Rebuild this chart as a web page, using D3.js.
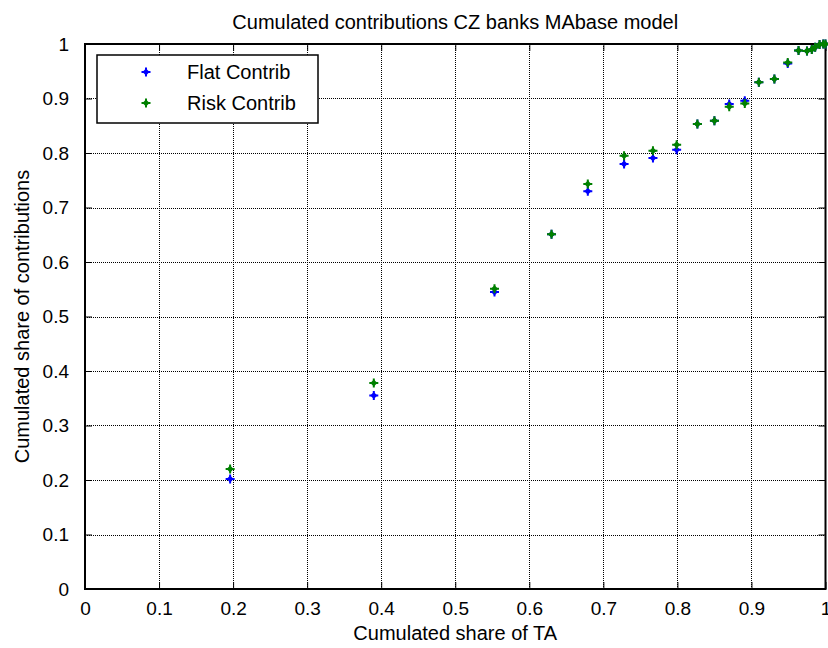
<!DOCTYPE html>
<html>
<head>
<meta charset="utf-8">
<script src="https://cdn.jsdelivr.net/npm/d3@7"></script>
<style>
  body { margin: 0; background: #fff; }
  svg { display: block; font-family: "Liberation Sans", Arial, sans-serif; }
</style>
</head>
<body>
<svg id="chart" width="828" height="648"></svg>
<script>
// ---- data ----
const xShareTA = [0.196, 0.390, 0.553, 0.630, 0.679, 0.728, 0.767, 0.799, 0.827, 0.850, 0.870, 0.891, 0.910, 0.931, 0.949, 0.9636, 0.975, 0.9815, 0.986, 0.992, 0.997, 1.0];
const flatContrib = [0.202, 0.355, 0.545, 0.651, 0.730, 0.780, 0.791, 0.806, 0.853, 0.859, 0.890, 0.896, 0.930, 0.936, 0.964, 0.988, 0.987, 0.990, 0.994, 0.999, 1.0, 1.0];
const riskContrib = [0.220, 0.378, 0.551, 0.651, 0.743, 0.795, 0.804, 0.815, 0.853, 0.859, 0.885, 0.891, 0.930, 0.936, 0.966, 0.988, 0.987, 0.990, 0.994, 0.999, 1.0, 1.0];
const xTicks = [0, 0.1, 0.2, 0.3, 0.4, 0.5, 0.6, 0.7, 0.8, 0.9, 1];
const yTicks = [0, 0.1, 0.2, 0.3, 0.4, 0.5, 0.6, 0.7, 0.8, 0.9, 1];
const seriesNames = ["Flat Contrib", "Risk Contrib"];
const seriesColors = ["#0000ff", "#008000"];
const titleText = "Cumulated contributions CZ banks MAbase model";
const xLabel = "Cumulated share of TA";
const yLabel = "Cumulated share of contributions";

// ---- layout ----
const svg = d3.select("#chart");
const L = 85, R = 825.5, T = 44, B = 589;
const x = d3.scaleLinear().domain([0, 1]).range([L, R]);
const y = d3.scaleLinear().domain([0, 1]).range([B, T]);
const tickLen = 7;

svg.append("rect").attr("x", 0).attr("y", 0).attr("width", 828).attr("height", 648).attr("fill", "#fff");

// grid
const grid = svg.append("g").attr("stroke", "#000").attr("stroke-width", 1).attr("stroke-dasharray", "1,1");
grid.selectAll("line.vx").data(xTicks.slice(1, -1)).join("line")
  .attr("x1", d => Math.round(x(d)) + 0.5).attr("x2", d => Math.round(x(d)) + 0.5)
  .attr("y1", T).attr("y2", B);
grid.selectAll("line.hy").data(yTicks.slice(1, -1)).join("line")
  .attr("y1", d => Math.round(y(d)) + 0.5).attr("y2", d => Math.round(y(d)) + 0.5)
  .attr("x1", L).attr("x2", R);

// axes (bottom, left, top, right) with inward ticks
const fontSize = 19;
const xAxisB = d3.axisBottom(x).tickValues(xTicks).tickFormat(d3.format("")).tickSizeInner(-tickLen).tickSizeOuter(0).tickPadding(tickLen + 6);
const yAxisL = d3.axisLeft(y).tickValues(yTicks).tickFormat(d3.format("")).tickSizeInner(-tickLen).tickSizeOuter(0).tickPadding(tickLen + 9);
const xAxisT = d3.axisTop(x).tickValues(xTicks).tickFormat("").tickSizeInner(-tickLen).tickSizeOuter(0);
const yAxisR = d3.axisRight(y).tickValues(yTicks).tickFormat("").tickSizeInner(-tickLen).tickSizeOuter(0);

function styleAxis(g) {
  g.select(".domain").remove();
  g.selectAll(".tick line").attr("stroke", "#000").attr("stroke-width", 1);
  g.selectAll(".tick text").attr("fill", "#000").attr("font-size", fontSize).attr("font-family", "Liberation Sans, Arial, sans-serif");
}
svg.append("g").attr("transform", `translate(0,${B})`).call(xAxisB).call(styleAxis);
svg.append("g").attr("transform", `translate(${L},0)`).call(yAxisL).call(styleAxis);
svg.append("g").attr("transform", `translate(0,${T})`).call(xAxisT).call(styleAxis);
svg.append("g").attr("transform", `translate(${R},0)`).call(yAxisR).call(styleAxis);

// frame
svg.append("rect").attr("x", L).attr("y", T).attr("width", R - L).attr("height", B - T)
  .attr("fill", "none").attr("stroke", "#000").attr("stroke-width", 2);

// markers
const markerPath = "M-4.5,0 L4.5,0 M0,-4.5 L0,4.5";
const diamond = "M0,-3.5 L3.5,0 L0,3.5 L-3.5,0 Z";
function drawMarker(g, cx, cy, color) {
  const m = g.append("g").attr("transform", `translate(${cx},${cy})`);
  m.append("path").attr("d", markerPath).attr("stroke", color).attr("stroke-width", 2).attr("fill", "none");
  m.append("path").attr("d", diamond).attr("fill", color);
}
const series = [flatContrib, riskContrib];
series.forEach((vals, si) => {
  const g = svg.append("g");
  vals.forEach((v, i) => drawMarker(g, x(xShareTA[i]), y(v), seriesColors[si]));
});

// title & labels
svg.append("text").attr("x", (L + R) / 2).attr("y", 29).attr("text-anchor", "middle")
  .attr("font-size", 20).attr("fill", "#000").text(titleText);
svg.append("text").attr("x", (L + R) / 2).attr("y", 640).attr("text-anchor", "middle")
  .attr("font-size", 20).attr("fill", "#000").text(xLabel);
svg.append("text").attr("transform", `translate(29,${(T + B) / 2}) rotate(-90)`).attr("text-anchor", "middle")
  .attr("font-size", 20).attr("fill", "#000").text(yLabel);

// legend
const lg = svg.append("g");
lg.append("rect").attr("x", 97).attr("y", 55).attr("width", 221).attr("height", 68)
  .attr("fill", "#fff").attr("stroke", "#000").attr("stroke-width", 1.5);
seriesNames.forEach((name, i) => {
  const cy = 72 + i * 31;
  drawMarker(lg, 146, cy, seriesColors[i]);
  lg.append("text").attr("x", 187).attr("y", cy + 7).attr("font-size", 20).attr("fill", "#000").text(name);
});
</script>
</body>
</html>
